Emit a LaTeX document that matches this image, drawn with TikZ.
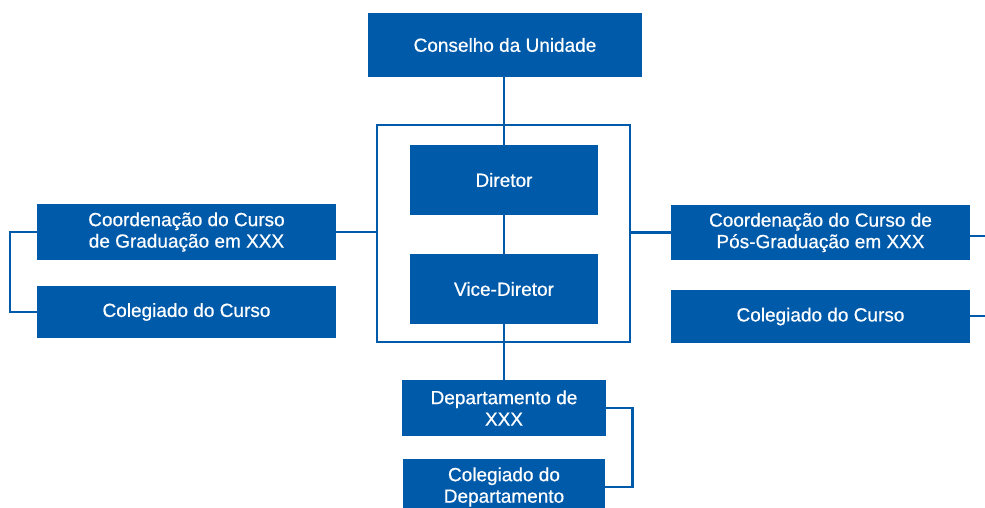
\documentclass[tikz,border=0pt]{standalone}
\usepackage{fontspec}
\setmainfont{Liberation Sans}
\newfontfamily\boxfont[FakeBold=0.6]{Liberation Sans}
\definecolor{ublue}{RGB}{0,90,170}
\begin{document}
\begin{tikzpicture}[x=1pt,y=-1pt,
  box/.style={fill=ublue,draw=none,text=white,inner sep=0pt,align=center,
    font=\boxfont\fontsize{19}{21.5}\selectfont},
  link/.style={draw=ublue,line width=2.6pt}]
\useasboundingbox (0,0) rectangle (985,508);
\clip (0,0) rectangle (985,508);
\node[box,minimum width=274,minimum height=64] (cons) at (505,45) {Conselho da Unidade};
\node[draw=ublue,line width=2.8pt,minimum width=253,minimum height=217,inner sep=0pt] (frame) at (503.5,233.5) {};
\node[box,minimum width=188,minimum height=70] (dir) at (504,180) {Diretor};
\node[box,minimum width=188,minimum height=70] (vice) at (504,289) {Vice-Diretor};
\node[box,minimum width=204,minimum height=56] (dep) at (504,408) {Departamento de\\XXX};
\node[box,minimum width=202,minimum height=56] (cdep) at (504,487) {Colegiado do\\Departamento};
\node[box,minimum width=299,minimum height=56] (cg) at (186.5,232) {Coordenação do Curso\\de Graduação em XXX};
\node[box,minimum width=299,minimum height=52] (colg) at (186.5,312) {Colegiado do Curso};
\node[box,minimum width=299,minimum height=55] (cp) at (820.5,232.5) {Coordenação do Curso de\\Pós-Graduação em XXX};
\node[box,minimum width=299,minimum height=53] (colp) at (820.5,316.5) {Colegiado do Curso};
\coordinate (e1) at (990,236);
\coordinate (e2) at (990,316);
\draw[link] (dir.north) -- (dir.north |- cons.south);
\draw[link] (dir.south) -- (vice.north);
\draw[link] (vice.south) -- (vice.south |- dep.north);
\draw[link] (dep.east) -- ++(26,0) |- (cdep.east);
\draw[link] (cg.east) -- (frame.west |- cg.east);
\draw[link] (cg.west) -- ++(-27,0) |- (colg.west);
\draw[link] (frame.east |- cp.west) -- (cp.west);
\draw[link] (cp.east |- e1) -- (e1);
\draw[link] (colp.east |- e2) -- (e2);
\end{tikzpicture}
\end{document}
